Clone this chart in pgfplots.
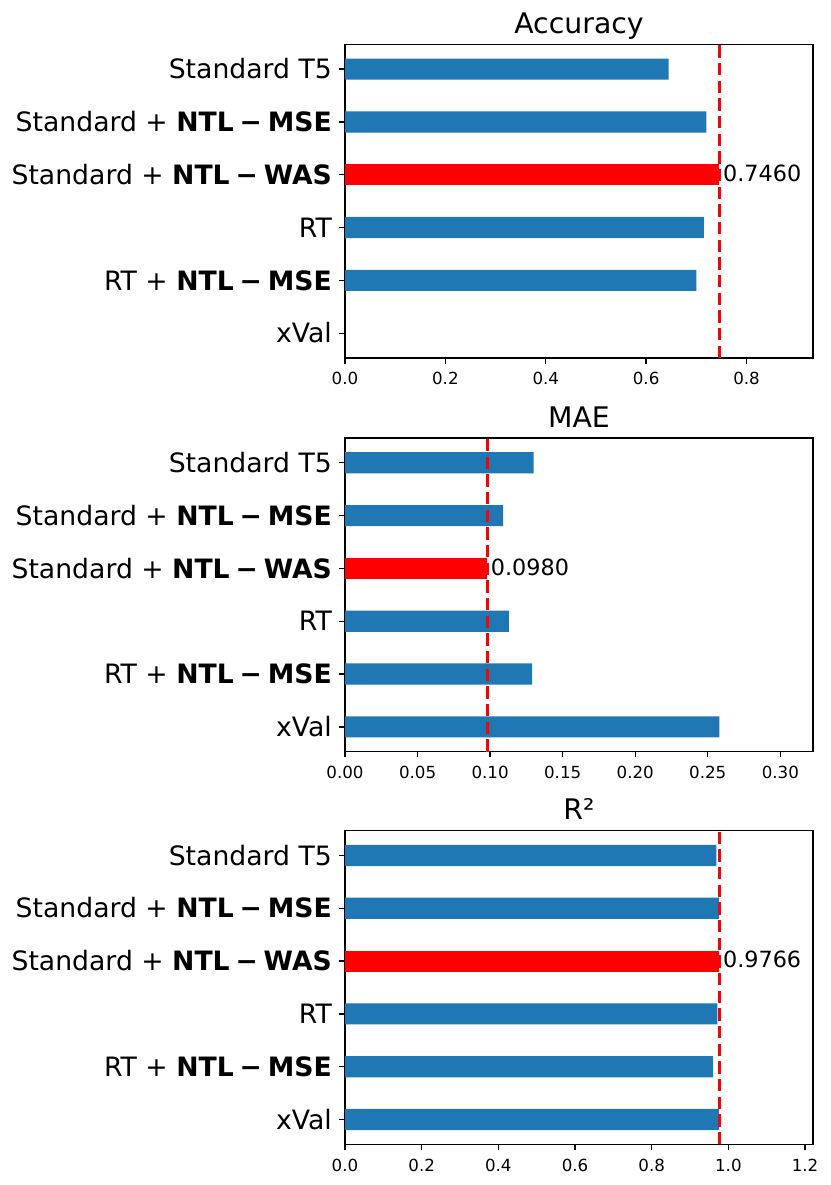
\documentclass[border=0pt]{standalone}
\usepackage{fontspec}
\setmainfont{DejaVu Sans}
\usepackage{pgfplots}
\pgfplotsset{compat=1.18}
\definecolor{mplblue}{HTML}{1F77B4}
\newcommand{\ntl}[1]{\textbf{NTL\hspace{0.22em}−\hspace{0.22em}#1}}
\pgfplotsset{
 mystyle/.style={
  scale only axis, width=280.8pt, height=188.2pt,
  anchor=south west,
  xmin=0, ymin=-0.47, ymax=5.47, y dir=reverse,
  axis line style={line width=0.8pt},
  every tick/.style={black, line width=0.8pt},
  major tick length=3.5pt,
  tick align=outside,
  xtick pos=left, ytick pos=left,
  ytick={0,1,2,3,4,5},
  yticklabels={Standard T5, Standard + \ntl{MSE}, Standard + \ntl{WAS}, RT, RT + \ntl{MSE}, xVal},
  yticklabel style={font=\fontsize{16}{19}\selectfont, inner sep=0pt, anchor=base east, xshift=-4.2pt, yshift=-5.8pt},
  xticklabel style={font=\fontsize{10}{12}\selectfont, inner sep=0pt, anchor=north, yshift=-4.9pt},
  /pgf/number format/assume math mode=true,
  title style={font=\fontsize{17}{20}\selectfont, at={(0.5,1)}, anchor=base, yshift=0.5pt},
  clip=false,
  scaled x ticks=false,
 },
 bluebar/.style={xbar, bar shift=0pt, bar width=0.4, fill=mplblue, draw=none},
 redbar/.style={xbar, bar shift=0pt, bar width=0.4, fill=red, draw=none,
   point meta=x,
   nodes near coords={\pgfmathprintnumber[fixed, fixed zerofill, precision=4, assume math mode=true]{\pgfplotspointmeta}},
   nodes near coords style={font=\fontsize{13.4}{15}\selectfont, anchor=west, inner sep=0pt, xshift=2pt, yshift=0.8pt, text=black}},
 bestline/.style={red, line width=2pt, dash pattern=on 7.4pt off 3.2pt},
}
\begin{document}
\begin{tikzpicture}
\useasboundingbox (0,0) rectangle (498pt,711pt);
% Accuracy
\begin{axis}[mystyle, at={(207pt,496.2pt)}, title={Accuracy},
  xmax=0.9325, xtick={0,0.2,0.4,0.6,0.8},
  xticklabel style={/pgf/number format/.cd, fixed, fixed zerofill, precision=1}]
\addplot[bluebar] coordinates {(0.645,0) (0.720,1) (0.715,3) (0.700,4)};
\addplot[redbar] coordinates {(0.746,2)};
\addplot[bestline] coordinates {(0.746,5.47) (0.746,-0.47)};
\end{axis}
% MAE
\begin{axis}[mystyle, at={(207pt,260pt)}, title={MAE},
  xmax=0.3225, xtick={0,0.05,0.10,0.15,0.20,0.25,0.30},
  xticklabel style={/pgf/number format/.cd, fixed, fixed zerofill, precision=2}]
\addplot[bluebar] coordinates {(0.130,0) (0.109,1) (0.113,3) (0.129,4) (0.258,5)};
\addplot[redbar] coordinates {(0.098,2)};
\addplot[bestline] coordinates {(0.098,5.47) (0.098,-0.47)};
\end{axis}
% R2
\begin{axis}[mystyle, at={(207pt,24.4pt)}, title={R²},
  xmax=1.22075, xtick={0,0.2,0.4,0.6,0.8,1.0,1.2},
  xticklabel style={/pgf/number format/.cd, fixed, fixed zerofill, precision=1}]
\addplot[bluebar] coordinates {(0.969,0) (0.9756,1) (0.971,3) (0.960,4) (0.9756,5)};
\addplot[redbar] coordinates {(0.9766,2)};
\addplot[bestline] coordinates {(0.9766,5.47) (0.9766,-0.47)};
\end{axis}
\end{tikzpicture}
\end{document}
